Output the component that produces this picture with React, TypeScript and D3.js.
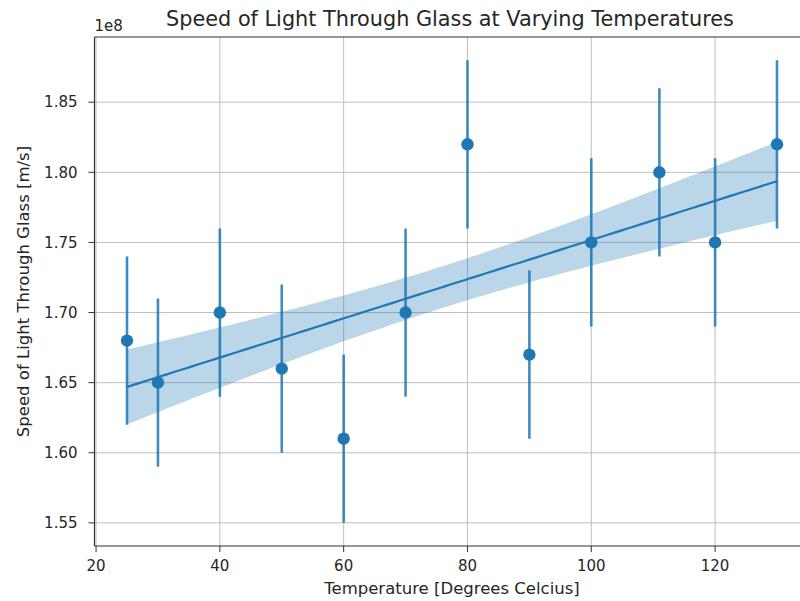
import React from 'react'
import * as d3 from 'd3'

// measurements (temperature in °C, speed in units of 1e8 m/s)
const temps = [25, 30, 40, 50, 60, 70, 80, 90, 100, 111, 120, 130]
const speeds = [1.68, 1.65, 1.7, 1.66, 1.61, 1.7, 1.82, 1.67, 1.75, 1.8, 1.75, 1.82]
const errors = [0.06, 0.06, 0.06, 0.06, 0.06, 0.06, 0.06, 0.06, 0.06, 0.06, 0.06, 0.06]
const xTicks = [20, 40, 60, 80, 100, 120]
const yTicks = [1.55, 1.6, 1.65, 1.7, 1.75, 1.8, 1.85]

const width = 800
const height = 601
const plot = { left: 94.5, right: 809.5, top: 37, bottom: 546 }
const blue = '#1f77b4'
const textColor = '#262626'
const font = '"DejaVu Sans", sans-serif'

// least squares fit + 1 standard-error band (what the regplot shows)
const n = temps.length
const mx = d3.mean(temps) as number
const my = d3.mean(speeds) as number
const sxx = d3.sum(temps, t => (t - mx) ** 2)
const sxy = d3.sum(temps, (t, i) => (t - mx) * (speeds[i] - my))
const slope = sxy / sxx
const intercept = my - slope * mx
const s = Math.sqrt(d3.sum(temps, (t, i) => (speeds[i] - (intercept + slope * t)) ** 2) / (n - 2))
const fitXs = d3.range(0, 101).map(i => temps[0] + ((temps[n - 1] - temps[0]) * i) / 100)
const fit = fitXs.map(x => {
	const yhat = intercept + slope * x
	const se = s * Math.sqrt(1 / n + (x - mx) ** 2 / sxx)
	return { x, y: yhat, lo: yhat - se, hi: yhat + se }
})

export default function App() {
	const x = d3.scaleLinear().domain([19.75, 135.25]).range([plot.left, plot.right])
	const y = d3.scaleLinear().domain([1.5335, 1.8965]).range([plot.bottom, plot.top])

	const area = d3
		.area<{ x: number; lo: number; hi: number }>()
		.x(d => x(d.x))
		.y0(d => y(d.lo))
		.y1(d => y(d.hi))
	const line = d3
		.line<{ x: number; y: number }>()
		.x(d => x(d.x))
		.y(d => y(d.y))

	return (
		<svg
			width={width}
			height={height}
			style={{ position: 'absolute', left: 0, top: 0, background: '#fff' }}
			fontFamily={font}
		>
			<defs>
				<clipPath id="plotclip">
					<rect x={plot.left} y={plot.top} width={plot.right - plot.left} height={plot.bottom - plot.top} />
				</clipPath>
			</defs>
			{/* grid */}
			<g stroke="#b0b0b0" strokeWidth={1} opacity={0.8}>
				{xTicks.map(t => (
					<line key={'gx' + t} x1={x(t)} x2={x(t)} y1={plot.top} y2={plot.bottom} />
				))}
				{yTicks.map(t => (
					<line key={'gy' + t} x1={plot.left} x2={plot.right} y1={y(t)} y2={y(t)} />
				))}
			</g>
			<g clipPath="url(#plotclip)">
				<path d={area(fit) || ''} fill={blue} fillOpacity={0.3} stroke="none" />
				<path d={line(fit) || ''} fill="none" stroke={blue} strokeWidth={2.2} />
				{temps.map((t, i) => (
					<line
						key={'e' + t}
						x1={x(t)}
						x2={x(t)}
						y1={y(speeds[i] - errors[i])}
						y2={y(speeds[i] + errors[i])}
						stroke={blue}
						strokeOpacity={0.85}
						strokeWidth={2.6}
					/>
				))}
				{temps.map((t, i) => (
					<circle key={'p' + t} cx={x(t)} cy={y(speeds[i])} r={6.2} fill={blue} />
				))}
			</g>
			{/* spines */}
			<g stroke="#333" strokeWidth={1.2} fill="none">
				<line x1={plot.left} x2={plot.left} y1={plot.top} y2={plot.bottom} />
				<line x1={plot.left} x2={plot.right} y1={plot.bottom} y2={plot.bottom} />
				<line x1={plot.left} x2={plot.right} y1={plot.top} y2={plot.top} />
				<line x1={plot.right} x2={plot.right} y1={plot.top} y2={plot.bottom} />
			</g>
			{/* x ticks */}
			{xTicks.map(t => (
				<g key={'xt' + t} transform={`translate(${x(t)},${plot.bottom})`}>
					<line y1={0} y2={6} stroke="#333" strokeWidth={1} />
					<text y={24.5} textAnchor="middle" fontSize={15} fill={textColor}>
						{t}
					</text>
				</g>
			))}
			{/* y ticks */}
			{yTicks.map(t => (
				<g key={'yt' + t} transform={`translate(${plot.left},${y(t)})`}>
					<line x1={-6} x2={0} stroke="#333" strokeWidth={1} />
					<text x={-17} dy="0.35em" textAnchor="end" fontSize={15} fill={textColor}>
						{t.toFixed(2)}
					</text>
				</g>
			))}
			<text x={plot.left} y={31} fontSize={15} fill={textColor}>
				1e8
			</text>
			<text x={450} y={26} textAnchor="middle" fontSize={20.8} fill={textColor}>
				Speed of Light Through Glass at Varying Temperatures
			</text>
			<text x={452} y={594} textAnchor="middle" fontSize={16.5} fill={textColor}>
				Temperature [Degrees Celcius]
			</text>
			<text
				transform={`translate(29,${(plot.top + plot.bottom) / 2}) rotate(-90)`}
				textAnchor="middle"
				fontSize={16.5}
				fill={textColor}
			>
				Speed of Light Through Glass [m/s]
			</text>
		</svg>
	)
}
